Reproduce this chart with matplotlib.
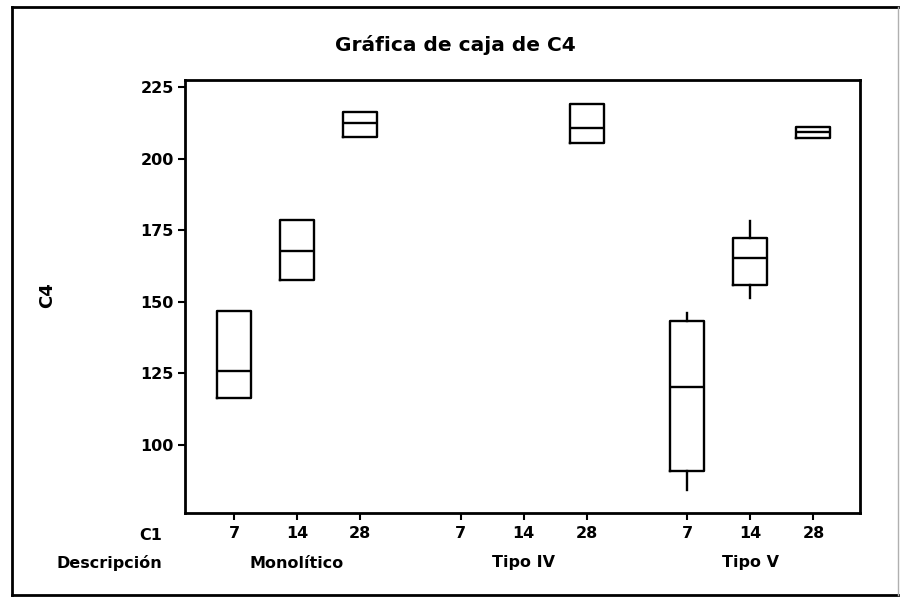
import matplotlib
matplotlib.use("Agg")
import matplotlib.pyplot as plt
from matplotlib.lines import Line2D

# Box summaries per (Descripción, C1) group: Q1, median, Q3, whisker low, whisker high
descripciones = ["Monolítico", "Tipo IV", "Tipo V"]
c1_levels = ["7", "14", "28"]

mono_q1 = [116.2, 157.6, 207.7]
mono_med = [125.8, 167.7, 212.4]
mono_q3 = [146.9, 178.6, 216.5]
mono_lo = [116.2, 157.6, 207.7]
mono_hi = [146.9, 178.6, 216.5]

# Tipo IV has data only at 28 days
tipo4_q1 = [None, None, 205.4]
tipo4_med = [None, None, 210.7]
tipo4_q3 = [None, None, 219.1]
tipo4_lo = [None, None, 205.4]
tipo4_hi = [None, None, 219.1]

tipo5_q1 = [90.9, 155.8, 207.4]
tipo5_med = [120.1, 165.4, 209.4]
tipo5_q3 = [143.4, 172.2, 211.2]
tipo5_lo = [84.1, 151.2, 207.4]
tipo5_hi = [145.9, 178.2, 211.2]

yticks = [100, 125, 150, 175, 200, 225]

series = [
    (mono_q1, mono_med, mono_q3, mono_lo, mono_hi),
    (tipo4_q1, tipo4_med, tipo4_q3, tipo4_lo, tipo4_hi),
    (tipo5_q1, tipo5_med, tipo5_q3, tipo5_lo, tipo5_hi),
]

FONT = ["DejaVu Sans Condensed", "Liberation Sans Narrow", "DejaVu Sans"]
plt.rcParams["font.family"] = FONT

W, H = 900, 597
fig = plt.figure(figsize=(W / 100, H / 100), dpi=100)
fig.patch.set_facecolor("white")

left, right, top, bottom = 185, 860, 80, 513
ax = fig.add_axes([left / W, 1 - bottom / H, (right - left) / W, (bottom - top) / H])

group_step = 3.6
positions, tick_labels, stats, stat_pos = [], [], [], []
for g, (q1s, meds, q3s, los, his) in enumerate(series):
    for i, lvl in enumerate(c1_levels):
        x = g * group_step + i
        positions.append(x)
        tick_labels.append(lvl)
        if meds[i] is not None:
            stats.append(dict(q1=q1s[i], med=meds[i], q3=q3s[i],
                              whislo=los[i], whishi=his[i], fliers=[]))
            stat_pos.append(x)

line = dict(color="black", linewidth=1.7)
ax.bxp(stats, positions=stat_pos, widths=0.54, showfliers=False, showcaps=False,
       boxprops=line, medianprops=line, whiskerprops=line, manage_ticks=False)

ax.set_xlim(-0.78, 9.94)
ax.set_ylim(76.1, 227.55)
ax.set_yticks(yticks)
ax.set_yticklabels([str(v) for v in yticks], fontsize=11.5, fontweight="bold")
ax.set_xticks(positions)
ax.set_xticklabels(tick_labels, fontsize=11.5, fontweight="bold")
ax.tick_params(axis="both", direction="out", length=5, width=1.5, color="black")
ax.tick_params(axis="y", pad=3)
ax.tick_params(axis="x", pad=4)
for s in ax.spines.values():
    s.set_linewidth(2)
    s.set_color("black")

# Group names under the middle tick of each group
xform = ax.get_xaxis_transform()
for g, name in enumerate(descripciones):
    ax.text(g * group_step + 1, -(563 - bottom) / (bottom - top), name,
            transform=xform, ha="center", va="center",
            fontsize=11.5, fontweight="bold")

fig.text(162 / W, 1 - 535 / H, "C1", ha="right", va="center",
         fontsize=11.5, fontweight="bold")
fig.text(162 / W, 1 - 563 / H, "Descripción", ha="right", va="center",
         fontsize=11.5, fontweight="bold")

fig.text(455 / W, 1 - 45 / H, "Gráfica de caja de C4", ha="center", va="center",
         fontsize=14.5, fontweight="bold")
fig.text(47 / W, 1 - 295 / H, "C4", ha="center", va="center", rotation=90,
         fontsize=13, fontweight="bold")

# Outer frame around the whole graph (right edge is faint)
fx0, fx1 = 12 / W, 898 / W
fy0, fy1 = 1 - 595 / H, 1 - 7 / H
for xs, ys, col, lw in [
    ([fx0, fx1], [fy1, fy1], "black", 2),
    ([fx0, fx1], [fy0, fy0], "black", 2),
    ([fx0, fx0], [fy0, fy1], "black", 2),
    ([fx1, fx1], [fy0, fy1], "#b0b0b0", 1),
]:
    fig.add_artist(Line2D(xs, ys, transform=fig.transFigure, color=col, linewidth=lw))

fig.savefig("out.png", dpi=100)
